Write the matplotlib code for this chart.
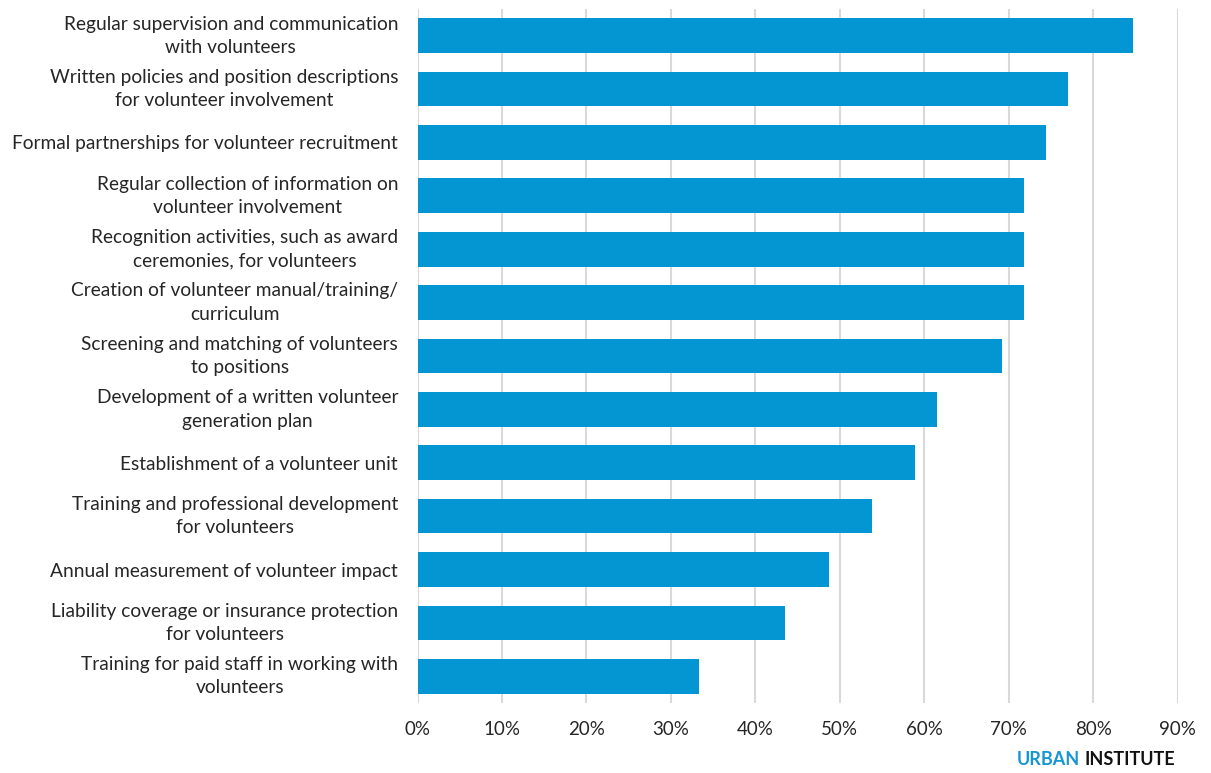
import matplotlib
matplotlib.use("Agg")
import matplotlib.pyplot as plt
from matplotlib.ticker import PercentFormatter

plt.rcParams['font.family'] = ['Lato', 'DejaVu Sans']

categories = [
    "Regular supervision and communication\nwith volunteers",
    "Written policies and position descriptions\nfor volunteer involvement",
    "Formal partnerships for volunteer recruitment",
    "Regular collection of information on\nvolunteer involvement",
    "Recognition activities, such as award\nceremonies, for volunteers",
    "Creation of volunteer manual/training/\ncurriculum",
    "Screening and matching of volunteers\nto positions",
    "Development of a written volunteer\ngeneration plan",
    "Establishment of a volunteer unit",
    "Training and professional development\nfor volunteers",
    "Annual measurement of volunteer impact",
    "Liability coverage or insurance protection\nfor volunteers",
    "Training for paid staff in working with\nvolunteers",
]
shares = [0.847, 0.770, 0.744, 0.718, 0.718, 0.718, 0.692,
          0.615, 0.589, 0.538, 0.487, 0.435, 0.333]
x_ticks = [0.0, 0.1, 0.2, 0.3, 0.4, 0.5, 0.6, 0.7, 0.8, 0.9]

BAR_BLUE = "#0396d2"
TEXT = "#262626"
GRID = "#d9d9d9"

fig = plt.figure(figsize=(12.11, 7.73), dpi=100)
ax = fig.add_axes([0.3448, 0.0906, 0.9725 - 0.3448, 0.9884 - 0.0906])

ypos = list(range(len(categories)))
ax.barh(ypos, shares, height=0.65, color=BAR_BLUE, zorder=3)

ax.set_ylim(len(categories) - 0.5, -0.5)
ax.set_xlim(0, 0.9)
ax.set_xticks(x_ticks)
ax.xaxis.set_major_formatter(PercentFormatter(1.0, decimals=0))
ax.set_yticks(ypos)
ax.set_yticklabels(categories, ha="right", multialignment="center",
                   linespacing=1.45)
# two-line labels sit centred as a block on their bar
for lbl in ax.get_yticklabels():
    if "\n" in lbl.get_text():
        lbl.set_verticalalignment("center")

ax.grid(axis="x", color=GRID, linewidth=1.5, zorder=0)
for s in ax.spines.values():
    s.set_visible(False)

ax.tick_params(axis="x", length=0, pad=13, labelsize=13.5, labelcolor=TEXT)
ax.tick_params(axis="y", length=0, pad=14, labelsize=13.8, labelcolor=TEXT)

# brand mark in bottom-right corner
inst = fig.text(0.9705, 0.006, "INSTITUTE", ha="right", va="bottom",
                fontsize=13, fontweight="bold", color="#111111")
fig.canvas.draw()
bb = inst.get_window_extent(fig.canvas.get_renderer())
fig.text(bb.x0 / fig.bbox.width - 0.004, 0.006, "URBAN", ha="right",
         va="bottom", fontsize=13, fontweight="bold", color="#1696d2")

fig.savefig("out.png", dpi=100)
